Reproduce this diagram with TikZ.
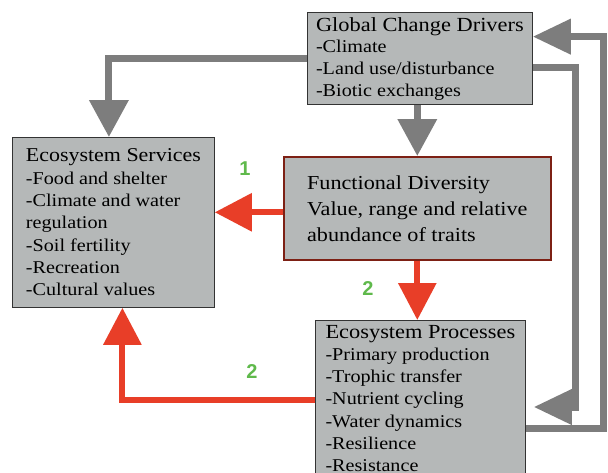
\documentclass[tikz,border=0pt]{standalone}
\usepackage{fontspec}
\setmainfont{Liberation Serif}[FakeStretch = 1.12]
\newfontfamily\numfont{Liberation Sans}
\usetikzlibrary{arrows.meta}

\begin{document}
\begin{tikzpicture}[x = 1pt, y = -1pt,
  box/.style = {draw = black!80, line width = 0.8pt, fill = boxgray, anchor = north west, align = left, inner xsep = 6pt, inner ysep = 4.8pt},
  grayarrow/.style = {draw = arrowgray, line width = 7pt, -{Triangle[length = 37pt, width = 38pt]}},
  sidearrow/.style = {draw = arrowgray, line width = 7pt, -{Triangle[length = 38pt, width = 34pt]}},
  redarrow/.style = {draw = arrowred, line width = 6pt, -{Triangle[length = 37pt, width = 37pt]}},
  number/.style = {text = numgreen, font = \numfont\bfseries\fontsize{20}{20}\selectfont}]
\definecolor{boxgray}{RGB}{181,184,184}
\definecolor{arrowgray}{RGB}{125,125,125}
\definecolor{arrowred}{RGB}{232,62,40}
\definecolor{framered}{RGB}{125,32,20}
\definecolor{numgreen}{RGB}{95,185,75}
\useasboundingbox (0,0) rectangle (608,472);
\fill[white] (0,0) rectangle (608,472);
\node[box, minimum width = 225pt, minimum height = 88pt, font = \fontsize{18}{21.7}\selectfont] (gcd) at (307,12) {{\fontsize{20}{21.7}\selectfont Global Change Drivers}\\-Climate\\-Land use/disturbance\\-Biotic exchanges};
\node[box, minimum width = 202pt, minimum height = 170pt, font = \fontsize{18}{22.3}\selectfont] (es) at (12,137) {{\fontsize{19.6}{22.3}\selectfont Ecosystem Services}\\-Food and shelter\\-Climate and water\\regulation\\-Soil fertility\\-Recreation\\-Cultural values};
\node[box, draw = framered, line width = 1.6pt, minimum width = 267pt, minimum height = 103pt, font = \fontsize{19.8}{26}\selectfont] (fd) at (283,156) {Functional Diversity\\Value, range and relative\\abundance of traits};
\node[box, minimum width = 210pt, font = \fontsize{18}{22.2}\selectfont] (ep) at (315,320) {{\fontsize{20}{22.2}\selectfont Ecosystem Processes}\\-Primary production\\-Trophic transfer\\-Nutrient cycling\\-Water dynamics\\-Resilience\\-Resistance};
\draw[grayarrow] (gcd.west) -| ([xshift = -4.5pt]es.north);
\draw[grayarrow] (gcd.south -| fd.north) -- (fd.north);
\draw[redarrow] ([yshift = -4pt]fd.west) -- ([yshift = -4pt]fd.west -| es.east);
\draw[redarrow] (fd.south) -- (fd.south |- ep.north);
\draw[redarrow] ([yshift = -80pt]ep.north west) -| ([xshift = 9pt]es.south);
\draw[sidearrow, shorten >= 8pt] ([yshift = -9pt]gcd.east) -- ++(43,0) |- ([yshift = -87pt]ep.north east);
\draw[sidearrow] ([yshift = -108pt]ep.north east) -- ++(78,0) |- ([yshift = 22pt]gcd.east);
\node[number] (one) at (245,169) {1};
\node[number] (twoa) at (368,289) {2};
\node[number] (twob) at (252,372) {2};
\end{tikzpicture}
\end{document}
